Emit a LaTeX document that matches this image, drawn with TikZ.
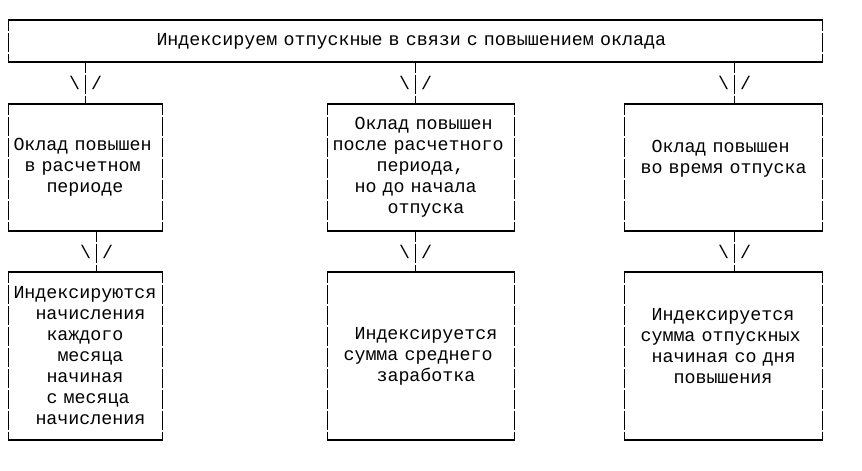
\documentclass[tikz,border=0pt]{standalone}
\usepackage{fontspec}
\newfontfamily\asciifont{Liberation Mono}
\usetikzlibrary{positioning}
\newlength\chw
\setlength\chw{11pt}
\newcommand{\lead}[1]{\hspace*{#1\chw}}

\begin{document}
\begin{tikzpicture}[x=1pt, y=-1pt, line width=1.4pt,
    font=\asciifont\fontsize{18.33}{21}\selectfont,
    blk/.style={inner xsep=5pt, inner ysep=0pt, outer sep=0pt, align=left, anchor=north west},
    vbar/.style={dash pattern=on 19pt off 2pt, dash phase=8.5pt},
    slash/.style={inner sep=0pt}]
    \useasboundingbox (0,0) rectangle (862,471);
    % Заголовок
    \node[blk, text width=804pt, minimum height=42pt] (top) at (8.5,20)
      {\lead{13}Индексируем отпускные в связи с повышением оклада};
    % Когда повышен оклад
    \node[blk, text width=144pt, minimum height=127pt] (a1) at (8.5,104)
      {Оклад повышен\\ \lead{1}в расчетном\\ \lead{3}периоде};
    \node[blk, text width=177pt, minimum height=127pt] (b1) at (327.5,104)
      {\lead{2}Оклад повышен\\ после расчетного\\ \lead{4}периода,\\ \lead{2}но до начала\\ \lead{5}отпуска};
    \node[blk, text width=188pt, minimum height=127pt] (c1) at (624.5,104)
      {\lead{2}Оклад повышен\\ \lead{1}во время отпуска\\ \mbox{}};
    % Что индексируется
    \node[blk, text width=144pt, minimum height=168pt] (a2) at (8.5,272)
      {Индексируются\\ \lead{2}начисления\\ \lead{3}каждого\\ \lead{4}месяца\\ \lead{3}начиная\\ \lead{3}с месяца\\ \lead{2}начисления};
    \node[blk, text width=177pt, minimum height=168pt] (b2) at (327.5,272)
      {\lead{2}Индексируется\\ \lead{1}сумма среднего\\ \lead{4}заработка};
    \node[blk, text width=188pt, minimum height=168pt] (c2) at (624.5,272)
      {\lead{2}Индексируется\\ \lead{1}сумма отпускных\\ \lead{2}начиная со дня\\ \lead{4}повышения\\ \mbox{}};
    % Рамки
    \foreach \b in {top,a1,b1,c1,a2,b2,c2} {
      \draw[line cap=rect] (\b.north west) -- (\b.north east) (\b.south west) -- (\b.south east);
      \draw[vbar] (\b.north west) -- (\b.south west);
      \draw[vbar] (\b.north east) -- (\b.south east);
    }
    % Стрелки \|/
    \foreach \up/\dn/\dx in {top/a1/0, top/b1/-5.5, top/c1/11, a1/a2/11, b1/b2/-5.5, c1/c2/11} {
      \draw[vbar] ([xshift=\dx pt]\dn.north |- \up.south) -- ([xshift=\dx pt]\dn.north)
        coordinate[midway] (m\dn);
      \node[slash] (l\dn) at ([xshift=-11pt]m\dn) {\textbackslash};
      \node[slash] (r\dn) at ([xshift=11pt]m\dn) {/};
    }
  \end{tikzpicture}
\end{document}
